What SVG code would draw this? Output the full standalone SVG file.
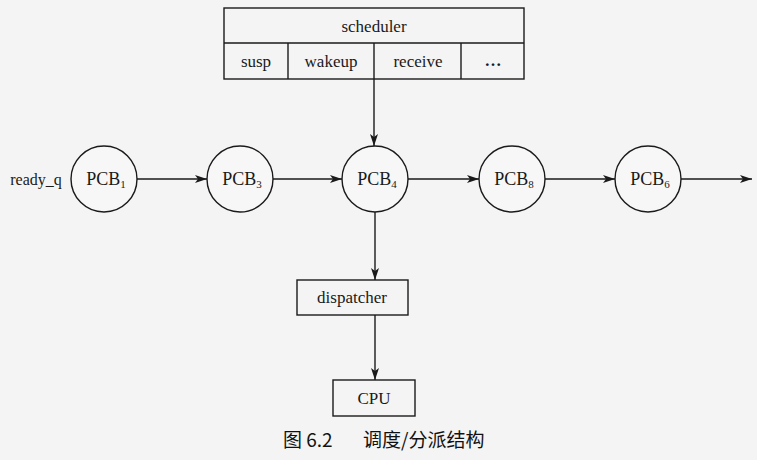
<svg xmlns="http://www.w3.org/2000/svg" width="757" height="460" viewBox="0 0 757 460">
<defs>
<marker id="ah" markerWidth="12" markerHeight="8" refX="12" refY="4" orient="auto" markerUnits="userSpaceOnUse">
<path d="M0,0 L12,4 L0,8 L3,4 Z" fill="#1a1a1a"/>
</marker>
<style>
.bx{fill:none;stroke:#1a1a1a;stroke-width:1.4}
.nd{fill:#f7f7f7;stroke:#1a1a1a;stroke-width:1.4}
.t{font-family:"Liberation Serif","Times New Roman",serif;font-size:17px;fill:#1a1a1a;text-anchor:middle}
.p{font-size:18px}
.s{font-size:11px}
.cn{stroke:#1a1a1a;stroke-width:1.4;fill:none;marker-end:url(#ah)}
.cap{font-family:"Noto Sans CJK SC","Noto Sans",sans-serif;font-size:19px;fill:#111;font-weight:400}
</style>
</defs>
<rect x="0" y="0" width="757" height="460" fill="#f4f4f4"/>
<g id="scheduler">
<rect class="bx" x="224" y="8" width="300" height="71" fill="#f7f7f7"/>
<line class="bx" x1="224" y1="43" x2="524" y2="43"/>
<line class="bx" x1="288" y1="43" x2="288" y2="79"/>
<line class="bx" x1="374" y1="43" x2="374" y2="79"/>
<line class="bx" x1="461" y1="43" x2="461" y2="79"/>
<text class="t" x="374" y="32">scheduler</text>
<text class="t" x="256" y="67">susp</text>
<text class="t" x="331" y="67">wakeup</text>
<text class="t" x="418" y="67">receive</text>
<text class="t" x="493" y="66" style="font-weight:bold">…</text>
</g>
<g id="ready_q">
<text class="t" x="36" y="185" style="font-size:16px">ready_q</text>
</g>
<g id="pcb1"><circle class="nd" cx="104" cy="179" r="33"/><text class="t p" x="106" y="185">PCB<tspan class="s" dy="3">1</tspan></text></g>
<g id="pcb3"><circle class="nd" cx="240" cy="179" r="33"/><text class="t p" x="242" y="185">PCB<tspan class="s" dy="3">3</tspan></text></g>
<g id="pcb4"><circle class="nd" cx="375" cy="179" r="33"/><text class="t p" x="377" y="185">PCB<tspan class="s" dy="3">4</tspan></text></g>
<g id="pcb8"><circle class="nd" cx="512" cy="179" r="33"/><text class="t p" x="514" y="185">PCB<tspan class="s" dy="3">8</tspan></text></g>
<g id="pcb6"><circle class="nd" cx="648" cy="179" r="33"/><text class="t p" x="650" y="185">PCB<tspan class="s" dy="3">6</tspan></text></g>
<g id="dispatcher">
<rect class="bx" x="297" y="280" width="111" height="35" fill="#f7f7f7"/>
<text class="t" x="352" y="303">dispatcher</text>
</g>
<g id="cpu">
<rect class="bx" x="333" y="380" width="82" height="36" fill="#f7f7f7"/>
<text class="t" x="374" y="404">CPU</text>
</g>
<g id="connectors">
<line class="cn" x1="374" y1="79" x2="374" y2="146"/>
<line class="cn" x1="137" y1="179" x2="207" y2="179"/>
<line class="cn" x1="273" y1="179" x2="342" y2="179"/>
<line class="cn" x1="408" y1="179" x2="479" y2="179"/>
<line class="cn" x1="545" y1="179" x2="615" y2="179"/>
<line class="cn" x1="681" y1="179" x2="752" y2="179"/>
<line class="cn" x1="375" y1="212" x2="375" y2="280"/>
<line class="cn" x1="375" y1="315" x2="375" y2="380"/>
</g>
<g id="caption">
<text class="cap" x="283" y="447">图 6.2</text>
<text class="cap" x="363" y="447">调度/分派结构</text>
</g>
</svg>
